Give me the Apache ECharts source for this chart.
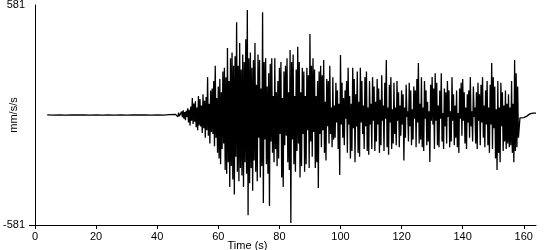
<!DOCTYPE html>
<html>
<head>
<meta charset="utf-8">
<script src="https://cdn.jsdelivr.net/npm/echarts@6/dist/echarts.min.js"></script>
<style>html,body{margin:0;padding:0;background:#fff}#c{width:550px;height:250px}</style>
</head>
<body>
<div id="c"></div>
<script>
// quiet pre-event baseline
var quietTimes = [4,6,8,10,12,14,16,18,20,22,24,26,28,30,32,34,36,38,40,42,44];
var quietValues = [1,-1,0,-1,1,0,1,-1,0,-1,1,-1,0,-1,1,0,1,-1,0,-1,2];
// active part: starts at 46 s, one sample every 0.25 s
var activeStart = 46;
var activeStep = 0.25;
var activeValues = [
 3,-5,8,-10,12,-6,4,-14,
 18,-12,25,-20,15,-28,22,-10,
 35,-40,28,-55,45,-30,90,-48,
 60,-35,72,-65,40,-80,100,-55,
 85,-60,50,-95,110,-70,75,-120,
 95,-80,200,-110,60,-150,130,-90,
 140,-100,180,-165,260,-120,90,-200,
 150,-230,190,-260,120,-180,230,-150,
 250,-290,200,-310,354,-250,180,-380,
 300,-270,330,-340,260,-420,310,-220,
 490,-300,260,-350,380,-280,240,-320,
 320,-380,280,-250,400,-310,555,-530,
 300,-360,330,-280,250,-400,290,-240,
 380,-300,160,-350,320,-120,290,-330,
 140,-270,543,-465,280,-130,300,-260,
 150,-310,220,-480,270,-140,300,-200,
 100,-250,300,-180,120,-270,180,-230,
 250,-100,280,-330,90,-380,230,-160,
 260,-110,300,-250,120,-290,343,-570,
 280,-130,320,-260,100,-300,240,-190,
 360,-150,280,-330,120,-270,250,-100,
 230,-300,100,-260,250,-80,210,-280,
 428,-140,260,-220,300,-90,240,-280,
 100,-250,180,-385,230,-100,260,-170,
 210,-80,290,-200,70,-240,190,-60,
 180,-150,260,-100,40,-170,200,-130,
 50,-120,170,-40,130,-180,60,-317,
 317,-50,170,-120,90,-160,130,-20,
 180,-200,250,-50,100,-230,60,-190,
 250,-70,190,-250,110,-60,230,-200,
 70,-220,250,-40,180,-100,50,-180,
 200,-60,230,-190,40,-210,180,-50,
 60,-180,200,-30,150,-190,70,-140,
 190,-50,140,-200,80,-160,210,-30,
 50,-190,170,-20,290,-170,40,-210,
 160,-40,200,-180,30,-150,170,-100,
 40,-160,180,-30,120,-170,50,-110,
 130,-50,110,-240,40,-120,160,-10,
 20,-140,170,-60,130,-160,30,-130,
 150,-20,130,-170,190,-40,275,-150,
 60,-130,200,-170,40,-190,180,-20,
 130,-160,70,-140,20,-248,160,-30,
 200,-50,140,-180,220,-30,170,-160,
 50,-170,130,-20,220,-140,10,-180,
 140,-60,120,-150,180,-10,130,-170,
 20,-140,200,-30,110,-160,50,-120,
 130,-170,10,-200,140,-20,170,-110,
 190,-30,120,-150,40,-180,110,-40,
 130,-120,200,-60,20,-140,150,-10,
 40,-150,120,-180,170,-30,110,-160,
 160,-40,200,-120,50,-170,130,-50,
 180,-160,40,-200,160,-50,275,-180,
 200,-70,150,-230,30,-290,180,-200,
 40,-250,170,-60,120,-190,50,-140,
 130,-180,60,-150,110,-170,40,-160,
 180,-200,60,-250,290,-190,220,-170,
 150,-120
];
// tail after the record
var tailTimes = [158.75,159,160,161,162,163,164];
var tailValues = [-15,-18,-14,-6,6,10,10];
var xTicks = [0,20,40,60,80,100,120,140,160];
var yTicks = [-581,581];
var xName = 'Time (s)';
var yName = 'mm/s/s';

var data = [];
quietTimes.forEach(function(t,i){ data.push([t, quietValues[i]]); });
activeValues.forEach(function(v,i){ data.push([activeStart + i*activeStep, v]); });
tailTimes.forEach(function(t,i){ data.push([t, tailValues[i]]); });

var font = 'Liberation Sans, Arial, sans-serif';
var chart = echarts.init(document.getElementById('c'), null, {renderer:'canvas'});
chart.setOption({
  animation: false,
  grid: {left: 35, right: 14, top: 5, bottom: 25, containLabel: false, outerBoundsMode: 'none'},
  xAxis: {
    type: 'value', min: 0, max: 164,
    name: xName, nameLocation: 'middle', nameGap: 15, nameMoveOverlap: false,
    nameTextStyle: {color: '#000', fontFamily: font, fontSize: 11, padding: [0, 76, 0, 0]},
    axisLine: {show: true, onZero: false, lineStyle: {color: '#000', width: 1}},
    axisTick: {show: true, length: 4, customValues: xTicks, lineStyle: {color: '#000'}},
    axisLabel: {customValues: xTicks, color: '#000', fontFamily: font, fontSize: 11, margin: 6},
    splitLine: {show: false}
  },
  yAxis: {
    type: 'value', min: -581, max: 581,
    name: yName, nameLocation: 'middle', nameGap: 16, nameMoveOverlap: false,
    nameTextStyle: {color: '#000', fontFamily: font, fontSize: 11},
    axisLine: {show: true, onZero: false, lineStyle: {color: '#000', width: 1}},
    axisTick: {show: true, length: 6, customValues: [-581], lineStyle: {color: '#000'}},
    axisLabel: {customValues: yTicks, color: '#000', fontFamily: font, fontSize: 11, margin: 10},
    splitLine: {show: false}
  },
  series: [{
    type: 'line', data: data, showSymbol: false, symbol: 'none', sampling: null,
    lineStyle: {color: '#000', width: 1.3}, silent: true
  }]
});
</script>
</body>
</html>
